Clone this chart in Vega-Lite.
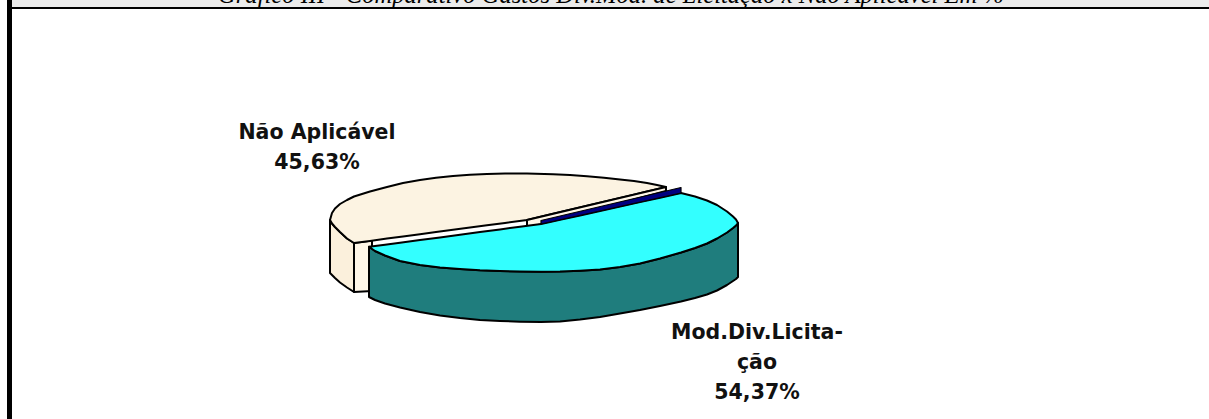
{"$schema":"https://vega.github.io/schema/vega-lite/v6.json","width":1209,"height":419,"padding":0,"autosize":{"type":"none"},"background":"white","view":{"stroke":null},
"datasets":{
"frame":[{"part":"band","x":12,"x2":1209,"y":0,"y2":7},{"part":"top","x":12,"x2":1209,"y":7,"y2":9},{"part":"left","x":7,"x2":12,"y":0,"y2":419}],
"shape":[
{"part":"1 wall","x":330,"y":220,"y2":273},{"part":"1 wall","x":332,"y":223.5,"y2":275},{"part":"1 wall","x":335,"y":227,"y2":278},{"part":"1 wall","x":340,"y":232,"y2":282.5},{"part":"1 wall","x":347,"y":238.5,"y2":287.5},{"part":"1 wall","x":354,"y":243,"y2":292},
{"part":"2 inner","x":354,"y":243,"y2":292},{"part":"2 inner","x":372,"y":240.5,"y2":291},
{"part":"3 beige","x":330,"y":220,"y2":220},{"part":"3 beige","x":332,"y":213,"y2":223.5},{"part":"3 beige","x":335,"y":208.5,"y2":227},{"part":"3 beige","x":340,"y":204,"y2":232},{"part":"3 beige","x":347,"y":200,"y2":238.5},{"part":"3 beige","x":354,"y":196.5,"y2":243},{"part":"3 beige","x":370,"y":191.5,"y2":240.9},{"part":"3 beige","x":387,"y":187,"y2":238.6},{"part":"3 beige","x":403,"y":183,"y2":236.5},{"part":"3 beige","x":420,"y":180,"y2":234.2},{"part":"3 beige","x":436,"y":177.8,"y2":232.1},{"part":"3 beige","x":453,"y":176,"y2":229.8},{"part":"3 beige","x":470,"y":174.8,"y2":227.6},{"part":"3 beige","x":487,"y":174,"y2":225.3},{"part":"3 beige","x":505,"y":173.6,"y2":222.9},{"part":"3 beige","x":527,"y":173.6,"y2":220},{"part":"3 beige","x":553,"y":174.3,"y2":213.8},{"part":"3 beige","x":570,"y":175,"y2":209.8},{"part":"3 beige","x":587,"y":176.3,"y2":205.8},{"part":"3 beige","x":604,"y":177.7,"y2":201.8},{"part":"3 beige","x":620,"y":179.5,"y2":197.9},{"part":"3 beige","x":634,"y":181,"y2":194.6},{"part":"3 beige","x":647,"y":183,"y2":191.5},{"part":"3 beige","x":657,"y":185,"y2":189.1},{"part":"3 beige","x":666,"y":187,"y2":187},
{"part":"4 inner2","x":527,"y":220,"y2":228},{"part":"4 inner2","x":666,"y":187,"y2":191},
{"part":"5 teal","x":369,"y":246.8,"y2":297},{"part":"5 teal","x":375,"y":251,"y2":300},{"part":"5 teal","x":385,"y":255.5,"y2":303.5},{"part":"5 teal","x":400,"y":261,"y2":307.5},{"part":"5 teal","x":420,"y":265,"y2":312},{"part":"5 teal","x":440,"y":267.5,"y2":315.5},{"part":"5 teal","x":460,"y":269,"y2":318},{"part":"5 teal","x":480,"y":270.3,"y2":320},{"part":"5 teal","x":500,"y":271,"y2":321},{"part":"5 teal","x":520,"y":271.4,"y2":321.7},{"part":"5 teal","x":541,"y":271.7,"y2":322},{"part":"5 teal","x":560,"y":271.5,"y2":321.5},{"part":"5 teal","x":580,"y":270.7,"y2":319.5},{"part":"5 teal","x":600,"y":269.5,"y2":317},{"part":"5 teal","x":620,"y":267,"y2":313.5},{"part":"5 teal","x":640,"y":263.5,"y2":310},{"part":"5 teal","x":660,"y":258.5,"y2":306},{"part":"5 teal","x":681,"y":252.5,"y2":301.5},{"part":"5 teal","x":695,"y":248,"y2":298},{"part":"5 teal","x":707,"y":243.5,"y2":294.5},{"part":"5 teal","x":717,"y":238.5,"y2":290.5},{"part":"5 teal","x":727,"y":232.5,"y2":285},{"part":"5 teal","x":733,"y":228,"y2":281},{"part":"5 teal","x":736,"y":225.5,"y2":279},{"part":"5 teal","x":738,"y":223,"y2":277},
{"part":"6 cyan","x":369,"y":246.8,"y2":246.8},{"part":"6 cyan","x":375,"y":246,"y2":251},{"part":"6 cyan","x":385,"y":244.7,"y2":255.5},{"part":"6 cyan","x":400,"y":242.7,"y2":261},{"part":"6 cyan","x":420,"y":240,"y2":265},{"part":"6 cyan","x":440,"y":237.4,"y2":267.5},{"part":"6 cyan","x":460,"y":234.7,"y2":269},{"part":"6 cyan","x":480,"y":232.1,"y2":270.3},{"part":"6 cyan","x":500,"y":229.4,"y2":271},{"part":"6 cyan","x":520,"y":226.8,"y2":271.4},{"part":"6 cyan","x":541,"y":224,"y2":271.7},{"part":"6 cyan","x":560,"y":219.8,"y2":271.5},{"part":"6 cyan","x":580,"y":215.4,"y2":270.7},{"part":"6 cyan","x":600,"y":210.9,"y2":269.5},{"part":"6 cyan","x":620,"y":206.5,"y2":267},{"part":"6 cyan","x":640,"y":202.1,"y2":263.5},{"part":"6 cyan","x":660,"y":197.7,"y2":258.5},{"part":"6 cyan","x":681,"y":193,"y2":252.5},{"part":"6 cyan","x":695,"y":196.5,"y2":248},{"part":"6 cyan","x":707,"y":200.5,"y2":243.5},{"part":"6 cyan","x":717,"y":205,"y2":238.5},{"part":"6 cyan","x":727,"y":211.5,"y2":232.5},{"part":"6 cyan","x":733,"y":216.5,"y2":228},{"part":"6 cyan","x":736,"y":219.5,"y2":225.5},{"part":"6 cyan","x":738,"y":223,"y2":223},
{"part":"7 navy","x":541,"y":220.5,"y2":224},{"part":"7 navy","x":681,"y":187.5,"y2":193}],
"labels":[
{"kind":"title","text":"Gráfico III - Comparativo Gastos Div.Mod. de Licitação x Não Aplicável  Em %","x":611,"y":3},
{"kind":"label","text":"Não Aplicável","x":317,"y":139},{"kind":"label","text":"45,63%","x":317,"y":169},
{"kind":"label","text":"Mod.Div.Licita-","x":757,"y":339},{"kind":"label","text":"ção","x":757,"y":369},{"kind":"label","text":"54,37%","x":757,"y":399}]},
"layer":[
{"data":{"name":"frame"},"mark":{"type":"rect"},"encoding":{"x":{"field":"x","type":"quantitative","scale":{"domain":[0,1209]},"axis":null},"x2":{"field":"x2"},"y":{"field":"y","type":"quantitative","scale":{"domain":[419,0]},"axis":null},"y2":{"field":"y2"},"color":{"field":"part","type":"nominal","scale":{"domain":["band","top","left"],"range":["#ebebeb","#000000","#000000"]},"legend":null}}},
{"data":{"name":"shape"},"transform":[{"filter":"datum.part=='1 wall'"}],"mark":{"type":"area","fill":"#fbf0dc","stroke":"black","strokeWidth":2,"strokeJoin":"round"},"encoding":{"x":{"field":"x","type":"quantitative","scale":{"domain":[0,1209]},"axis":null},"y":{"field":"y","type":"quantitative","scale":{"domain":[419,0]},"axis":null},"y2":{"field":"y2"}}},
{"data":{"name":"shape"},"transform":[{"filter":"datum.part=='2 inner'"}],"mark":{"type":"area","fill":"#fff7e8","stroke":"black","strokeWidth":2,"strokeJoin":"round"},"encoding":{"x":{"field":"x","type":"quantitative","scale":{"domain":[0,1209]},"axis":null},"y":{"field":"y","type":"quantitative","scale":{"domain":[419,0]},"axis":null},"y2":{"field":"y2"}}},
{"data":{"name":"shape"},"transform":[{"filter":"datum.part=='3 beige'"}],"mark":{"type":"area","fill":"#fcf3e2","stroke":"black","strokeWidth":2,"strokeJoin":"round"},"encoding":{"x":{"field":"x","type":"quantitative","scale":{"domain":[0,1209]},"axis":null},"y":{"field":"y","type":"quantitative","scale":{"domain":[419,0]},"axis":null},"y2":{"field":"y2"}}},
{"data":{"name":"shape"},"transform":[{"filter":"datum.part=='4 inner2'"}],"mark":{"type":"area","fill":"#fff7e8","stroke":"black","strokeWidth":2,"strokeJoin":"round"},"encoding":{"x":{"field":"x","type":"quantitative","scale":{"domain":[0,1209]},"axis":null},"y":{"field":"y","type":"quantitative","scale":{"domain":[419,0]},"axis":null},"y2":{"field":"y2"}}},
{"data":{"name":"shape"},"transform":[{"filter":"datum.part=='5 teal'"}],"mark":{"type":"area","fill":"#1f7d7d","stroke":"black","strokeWidth":2,"strokeJoin":"round"},"encoding":{"x":{"field":"x","type":"quantitative","scale":{"domain":[0,1209]},"axis":null},"y":{"field":"y","type":"quantitative","scale":{"domain":[419,0]},"axis":null},"y2":{"field":"y2"}}},
{"data":{"name":"shape"},"transform":[{"filter":"datum.part=='6 cyan'"}],"mark":{"type":"area","fill":"#33ffff","stroke":"black","strokeWidth":2,"strokeJoin":"round"},"encoding":{"x":{"field":"x","type":"quantitative","scale":{"domain":[0,1209]},"axis":null},"y":{"field":"y","type":"quantitative","scale":{"domain":[419,0]},"axis":null},"y2":{"field":"y2"}}},
{"data":{"name":"shape"},"transform":[{"filter":"datum.part=='7 navy'"}],"mark":{"type":"area","fill":"#000080","stroke":"black","strokeWidth":1.2,"strokeJoin":"round"},"encoding":{"x":{"field":"x","type":"quantitative","scale":{"domain":[0,1209]},"axis":null},"y":{"field":"y","type":"quantitative","scale":{"domain":[419,0]},"axis":null},"y2":{"field":"y2"}}},
{"data":{"name":"labels"},"transform":[{"filter":"datum.kind=='title'"}],"mark":{"type":"text","font":"Liberation Serif","fontStyle":"italic","fontSize":24.6,"align":"center","baseline":"alphabetic","color":"black"},"encoding":{"x":{"field":"x","type":"quantitative","scale":{"domain":[0,1209]},"axis":null},"y":{"field":"y","type":"quantitative","scale":{"domain":[419,0]},"axis":null},"text":{"field":"text"}}},
{"data":{"name":"labels"},"transform":[{"filter":"datum.kind=='label'"}],"mark":{"type":"text","font":"DejaVu Sans","fontWeight":"bold","fontSize":20.5,"align":"center","baseline":"alphabetic","color":"#111111"},"encoding":{"x":{"field":"x","type":"quantitative","scale":{"domain":[0,1209]},"axis":null},"y":{"field":"y","type":"quantitative","scale":{"domain":[419,0]},"axis":null},"text":{"field":"text"}}}
]}
